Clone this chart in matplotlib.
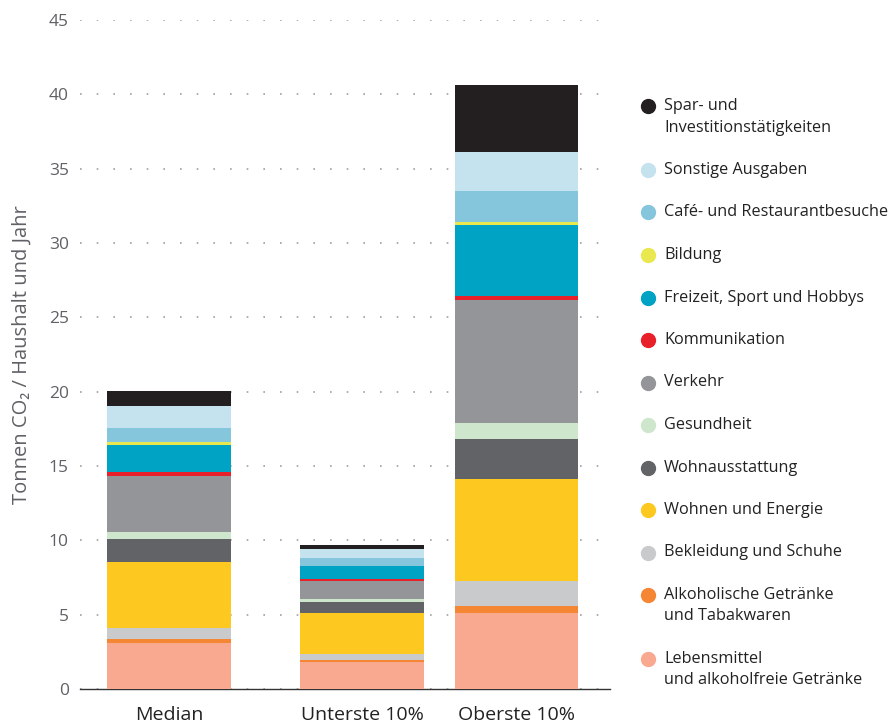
import matplotlib.pyplot as plt
from matplotlib.lines import Line2D

plt.rcParams['font.family'] = ['Open Sans', 'DejaVu Sans']

groups = ["Median", "Unterste 10%", "Oberste 10%"]
xpos = [0, 1, 1.8]

# stacked from bottom to top
categories = [
    "Lebensmittel\nund alkoholfreie Getränke",
    "Alkoholische Getränke\nund Tabakwaren",
    "Bekleidung und Schuhe",
    "Wohnen und Energie",
    "Wohnausstattung",
    "Gesundheit",
    "Verkehr",
    "Kommunikation",
    "Freizeit, Sport und Hobbys",
    "Bildung",
    "Café- und Restaurantbesuche",
    "Sonstige Ausgaben",
    "Spar- und\nInvestitionstätigkeiten",
]
colors = ["#f9a98f", "#f58634", "#c9cacc", "#fdc921", "#626366", "#cde6cc",
          "#939598", "#e8202a", "#00a3c4", "#e9e84f", "#85c6dc", "#c5e3ee",
          "#231f20"]

median = [3.12, 0.27, 0.72, 4.45, 1.55, 0.42, 3.80, 0.24, 1.85, 0.18, 0.97, 1.45, 1.00]
unterste = [1.84, 0.14, 0.40, 2.72, 0.72, 0.26, 1.20, 0.11, 0.85, 0.05, 0.50, 0.65, 0.25]
oberste = [5.12, 0.43, 1.71, 6.89, 2.67, 1.06, 8.31, 0.25, 4.74, 0.20, 2.11, 2.61, 4.55]

W, H = 891, 724
fig = plt.figure(figsize=(W / 100, H / 100), dpi=100)
ax = fig.add_axes([80 / W, 1 - 689 / H, 530 / W, 669 / H])

series = [median, unterste, oberste]
bottoms = [0.0, 0.0, 0.0]
for i, cat in enumerate(categories):
    vals = [s[i] for s in series]
    ax.bar(xpos, vals, width=0.64, bottom=bottoms, color=colors[i],
           linewidth=0, zorder=3)
    bottoms = [b + v for b, v in zip(bottoms, vals)]

ax.set_ylim(0, 45)
ax.set_xlim(-0.461, 2.285)
ax.set_yticks(range(0, 46, 5))
ax.set_xticks(xpos)
ax.set_xticklabels(groups, fontsize=14, color="#222222")
ax.tick_params(axis='both', length=0)
ax.tick_params(axis='y', labelsize=12.5, labelcolor="#5f6166", pad=8)
ax.tick_params(axis='x', pad=12)
ax.yaxis.grid(True, linestyle=(0, (1, 9)), color="#a0a0a0", linewidth=1.2, zorder=0)
for s in ["top", "right", "left"]:
    ax.spines[s].set_visible(False)
ax.spines["bottom"].set_color("#333333")
ax.spines["bottom"].set_linewidth(1.0)
fig.text(22 / W, 1 - 355 / H, "Tonnen CO₂ / Haushalt und Jahr", fontsize=14.5,
         color="#5f6166", rotation=90, ha="center", va="center")

# legend, top to bottom
y = 106
for i in reversed(range(len(categories))):
    fig.add_artist(Line2D([648 / W], [1 - y / H], marker="o", markersize=10,
                          color=colors[i], linestyle="none",
                          transform=fig.transFigure))
    for j, line in enumerate(categories[i].split("\n")):
        fig.text(664 / W, 1 - (y + j * 21.5) / H, line, fontsize=11.7,
                 color="#222222", ha="left", va="center")
    y += 42.5 + 21.5 * categories[i].count("\n")

fig.savefig("out.png", dpi=100)
